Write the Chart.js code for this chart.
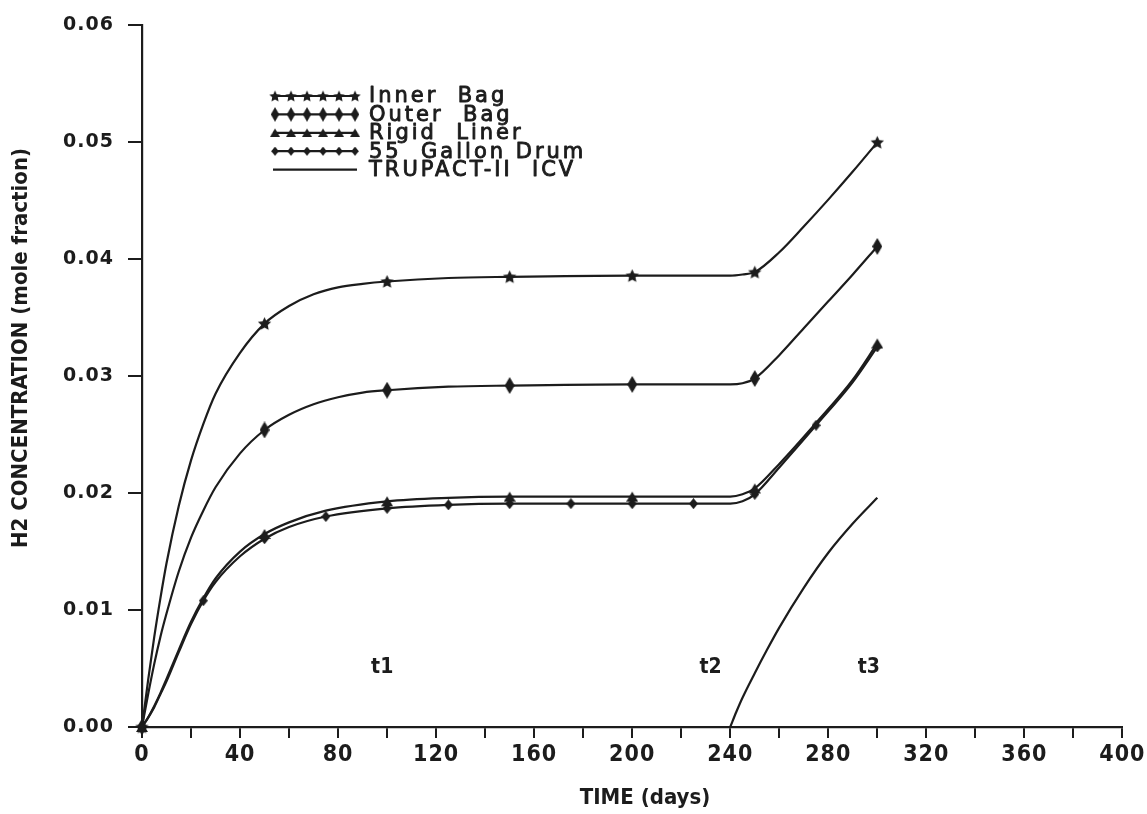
<!DOCTYPE html>
<html>
<head>
<meta charset="utf-8">
<script src="https://cdn.jsdelivr.net/npm/chart.js@4.4.1/dist/chart.umd.min.js"></script>
<style>
  html, body { margin: 0; padding: 0; background: #ffffff; }
  #wrap { width: 1147px; height: 814px; }
</style>
</head>
<body>
<div id="wrap"><canvas id="c" width="1147" height="814"></canvas></div>
<script>
// ---- data ----
const innerDays = [0,2.5,5,7.5,10,15,20,25,30,40,50,60,70,80,90,100,125,150,200,240,245,250,260,270,280,290,300];
const innerH2   = [0,0.0040,0.0077,0.0110,0.0140,0.0189,0.0228,0.0259,0.0285,0.0320,0.0345,0.0360,0.0370,0.0376,0.0379,0.0381,0.0384,0.0385,0.0386,0.0386,0.0387,0.0389,0.0406,0.0428,0.0451,0.0475,0.0500];

const outerDays = [0,2.5,5,7.5,10,15,20,25,30,40,50,60,70,80,90,100,125,150,200,240,245,250,260,270,280,290,300];
const outerH2   = [0,0.0028,0.0054,0.0077,0.0097,0.0133,0.0162,0.0185,0.0205,0.0234,0.0254,0.0267,0.0276,0.0282,0.0286,0.0288,0.0291,0.0292,0.0293,0.0293,0.0294,0.0298,0.0318,0.0341,0.0364,0.0387,0.0411];

const rigidDays = [0,2.5,5,7.5,10,15,20,25,30,40,50,60,75,100,125,150,200,240,245,250,260,275,290,300];
const rigidH2   = [0,0.0008,0.0018,0.0029,0.0041,0.0066,0.0090,0.0110,0.0127,0.0150,0.0165,0.0175,0.0185,0.0193,0.0196,0.0197,0.0197,0.0197,0.0199,0.0204,0.0225,0.0260,0.0297,0.0328];

const drumDays  = [0,2.5,5,7.5,10,15,20,25,30,40,50,60,75,100,125,150,175,200,225,240,245,250,260,275,290,300];
const drumH2    = [0,0.0008,0.0017,0.0028,0.0039,0.0064,0.0088,0.0108,0.0124,0.0146,0.0161,0.0171,0.0180,0.0187,0.0190,0.0191,0.0191,0.0191,0.0191,0.0191,0.0193,0.0199,0.0222,0.0258,0.0295,0.0325];

const icvDays   = [240,242.5,245,250,255,260,270,280,290,300];
const icvH2     = [0,0.0013,0.0025,0.0046,0.0066,0.0085,0.0119,0.0149,0.0174,0.0196];

const bagMarkerDays  = [0,50,100,150,200,250,300];
const drumMarkerDays = [0,25,50,75,100,125,150,175,200,225,250,275,300];

const seriesNames = ['Inner Bag','Outer Bag','Rigid Liner','55 Gallon Drum','TRUPACT-II ICV'];
const xTickValues = [0,40,80,120,160,200,240,280,320,360,400];
const yTickValues = [0,0.01,0.02,0.03,0.04,0.05,0.06];
const xTitle = 'TIME (days)';
const yTitle = 'H2 CONCENTRATION (mole fraction)';
const phaseLabels = ['t1','t2','t3'];
const phaseDays   = [98,232,296.5];
const phaseH2     = [0.0051,0.0051,0.0051];

// ---- marker images ----
const INK = '#1c1c1c';
const COND = '"DejaVu Sans Condensed", "DejaVu Sans", sans-serif';
function mk(w, h, draw) {
  const c = document.createElement('canvas');
  c.width = w; c.height = h;
  const g = c.getContext('2d');
  g.fillStyle = INK;
  draw(g, w, h);
  return c;
}
const starImg = mk(15, 15, (g) => {
  g.beginPath();
  for (let i = 0; i < 10; i++) {
    const r = i % 2 === 0 ? 7 : 3.4;
    const a = -Math.PI / 2 + i * Math.PI / 5;
    const px = 7.5 + r * Math.cos(a), py = 8 + r * Math.sin(a);
    if (i === 0) g.moveTo(px, py); else g.lineTo(px, py);
  }
  g.closePath(); g.fill();
});
const tallDiamondImg = mk(10, 17, (g) => {
  g.beginPath(); g.moveTo(5, 0); g.lineTo(10, 8.5); g.lineTo(5, 17); g.lineTo(0, 8.5); g.closePath(); g.fill();
});
const triangleImg = mk(12, 12, (g) => {
  g.beginPath(); g.moveTo(6, 1); g.lineTo(12, 11); g.lineTo(0, 11); g.closePath(); g.fill();
});
const smallDiamondImg = mk(9, 11, (g) => {
  g.beginPath(); g.moveTo(4.5, 0); g.lineTo(9, 5.5); g.lineTo(4.5, 11); g.lineTo(0, 5.5); g.closePath(); g.fill();
});

function pts(days, vals) { return days.map((d, i) => ({ x: d, y: vals[i] })); }
function radii(days, markerDays) { return days.map(d => markerDays.includes(d) ? 5 : 0); }

function ds(label, days, vals, img, markerDays) {
  return {
    label,
    data: pts(days, vals),
    borderColor: INK,
    backgroundColor: INK,
    borderWidth: 2.2,
    cubicInterpolationMode: 'monotone',
    pointStyle: img || 'circle',
    pointRadius: img ? radii(days, markerDays) : 0,
    pointHoverRadius: 0,
    clip: false,
    fill: false
  };
}

const datasets = [
  ds(seriesNames[0], innerDays, innerH2, starImg, bagMarkerDays),
  ds(seriesNames[1], outerDays, outerH2, tallDiamondImg, bagMarkerDays),
  ds(seriesNames[2], rigidDays, rigidH2, triangleImg, bagMarkerDays),
  ds(seriesNames[3], drumDays, drumH2, smallDiamondImg, drumMarkerDays),
  ds(seriesNames[4], icvDays, icvH2, null, [])
];
const legendMarkers = [starImg, tallDiamondImg, triangleImg, smallDiamondImg, null];

// ---- plugins ----
const bgPlugin = {
  id: 'bg',
  beforeDraw(chart) {
    const ctx = chart.ctx;
    ctx.save();
    ctx.fillStyle = '#ffffff';
    ctx.fillRect(0, 0, chart.width, chart.height);
    ctx.restore();
    ctx.letterSpacing = '1px';
  }
};

const annotatePlugin = {
  id: 'annotate',
  afterDraw(chart) {
    const ctx = chart.ctx;
    const xs = chart.scales.x, ys = chart.scales.y;
    ctx.save();
    ctx.letterSpacing = '0px';
    ctx.fillStyle = INK;
    ctx.textAlign = 'center';
    ctx.textBaseline = 'middle';

    // axis titles
    ctx.font = 'bold 22px ' + COND;
    ctx.fillText(xTitle, 645, 798);
    ctx.save();
    ctx.translate(21, 348);
    ctx.rotate(-Math.PI / 2);
    ctx.fillText(yTitle, 0, 0);
    ctx.restore();

    // phase labels
    ctx.font = 'bold 21px ' + COND;
    phaseLabels.forEach((t, i) => {
      ctx.fillText(t, xs.getPixelForValue(phaseDays[i]), ys.getPixelForValue(phaseH2[i]));
    });

    // legend
    const x0 = 273, x1 = 357, tx = 369, rowY0 = 96, dy = 18.4;
    ctx.textAlign = 'left';
    ctx.letterSpacing = '3px';
    ctx.font = '21px "DejaVu Sans"';
    ctx.lineJoin = 'round';
    seriesNames.forEach((name, i) => {
      const y = rowY0 + i * dy;
      ctx.strokeStyle = INK;
      ctx.lineWidth = 2.2;
      ctx.beginPath(); ctx.moveTo(x0, y); ctx.lineTo(x1, y); ctx.stroke();
      const img = legendMarkers[i];
      if (img) {
        for (let k = 0; k < 6; k++) {
          const mx = x0 + 2 + k * (x1 - x0 - 4) / 5;
          const sc = 0.85;
          ctx.drawImage(img, mx - img.width * sc / 2, y - img.height * sc / 2, img.width * sc, img.height * sc);
        }
      }
      const txt = name.replace(' ', '  ');
      ctx.lineWidth = 0.9;
      ctx.fillText(txt, tx, y + 1);
      ctx.strokeText(txt, tx, y + 1);
    });
    ctx.restore();
  }
};

new Chart(document.getElementById('c'), {
  type: 'line',
  data: { datasets },
  options: {
    responsive: false,
    animation: false,
    events: [],
    layout: { padding: { top: 19, right: 21, left: 0, bottom: 0 } },
    plugins: { legend: { display: false }, tooltip: { enabled: false } },
    scales: {
      x: {
        type: 'linear',
        min: 0, max: 400,
        afterBuildTicks: (s) => {
          const t = [];
          for (let v = 0; v <= 400; v += 20) t.push({ value: v });
          s.ticks = t;
        },
        ticks: {
          autoSkip: false, maxRotation: 0, minRotation: 0,
          color: INK, padding: 3,
          font: { family: COND, weight: 'bold', size: 23 },
          callback: (v) => xTickValues.includes(v) ? String(v) : ''
        },
        grid: { drawOnChartArea: false, drawTicks: true, tickLength: 11, color: INK, lineWidth: 2 },
        border: { display: true, color: INK, width: 2.2 },
        title: { display: false },
        afterFit: (s) => { s.height = 87; }
      },
      y: {
        type: 'linear',
        min: 0, max: 0.06,
        afterBuildTicks: (s) => { s.ticks = yTickValues.map(v => ({ value: v })); },
        ticks: {
          color: INK, padding: 14,
          font: { family: '"DejaVu Sans"', weight: 'bold', size: 19 },
          callback: (v) => v.toFixed(2)
        },
        grid: { drawOnChartArea: false, drawTicks: true, tickLength: 14, color: INK, lineWidth: 2 },
        border: { display: true, color: INK, width: 2.2 },
        title: { display: false },
        afterFit: (s) => { s.width = 142; }
      }
    }
  },
  plugins: [bgPlugin, annotatePlugin]
});
</script>
</body>
</html>
